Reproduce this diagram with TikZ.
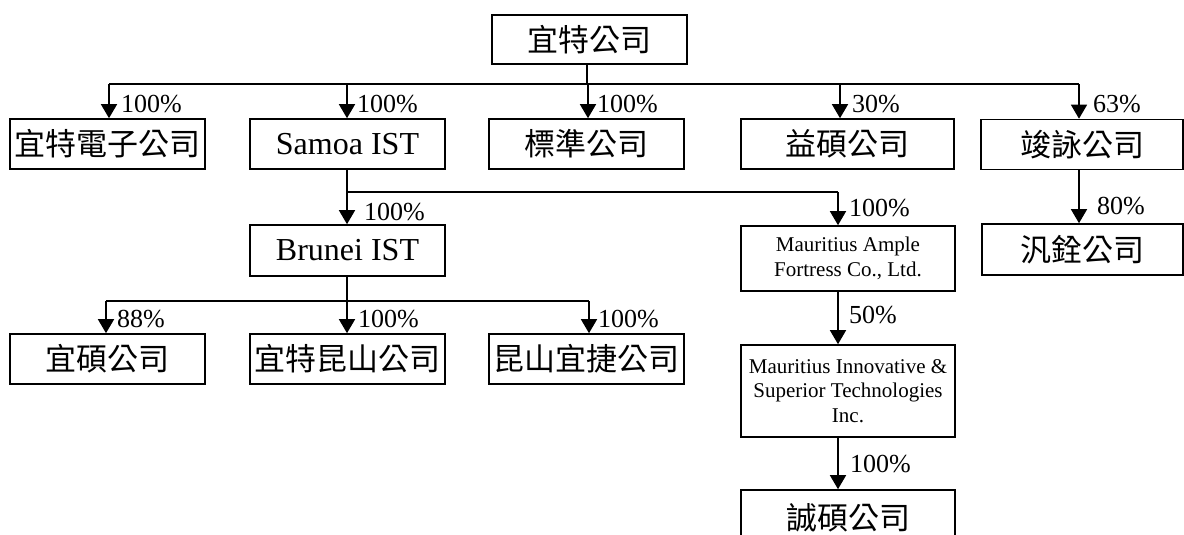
\documentclass[tikz,border=0pt]{standalone}
\usepackage{fontspec}
\setmainfont{Liberation Serif}
\newfontfamily\cjk{Noto Sans CJK TC}
\usetikzlibrary{arrows.meta}
\begin{document}
\begin{tikzpicture}[x=1pt,y=-1pt,
  box/.style={draw, line width=1.6pt, inner sep=0pt, align=center},
  cn/.style={font=\cjk\fontsize{31}{36}\selectfont},
  en/.style={font=\fontsize{32}{38}\selectfont},
  sm/.style={font=\fontsize{21}{24.5}\selectfont},
  pct/.style={anchor=west, inner sep=0pt, font=\fontsize{26}{30}\selectfont},
  conn/.style={line width=1.5pt},
  arr/.style={line width=1.5pt, -{Triangle[length=14pt,width=16pt]}}]
\useasboundingbox (0,0) rectangle (1184,535);

% nodes
\node[box, cn, minimum width=195pt, minimum height=49pt] (top) at (589.5,39.5) {宜特公司};
\node[box, cn, minimum width=195pt, minimum height=50pt] (ytdz) at (107.5,144) {宜特電子公司};
\node[box, en, minimum width=195pt, minimum height=50pt] (samoa) at (347.5,144) {Samoa IST};
\node[box, cn, minimum width=195pt, minimum height=50pt] (bz) at (586.5,144) {標準公司};
\node[box, cn, minimum width=213pt, minimum height=50pt] (ys) at (847.5,144) {益碩公司};
\node[box, cn, minimum width=202pt, minimum height=50pt] (jy) at (1082,144.5) {竣詠公司};
\node[box, en, minimum width=195pt, minimum height=51pt] (brunei) at (347.5,250.5) {Brunei IST};
\node[box, cn, minimum width=201pt, minimum height=51pt] (fq) at (1082.5,249.5) {汎銓公司};
\node[box, sm, minimum width=214pt, minimum height=65pt] (ample) at (848,258.5) {Mauritius Ample\\Fortress Co., Ltd.};
\node[box, sm, minimum width=214pt, minimum height=92pt] (innov) at (848,391) {Mauritius Innovative \&\\Superior Technologies\\Inc.};
\node[box, cn, minimum width=214pt, minimum height=56pt] (cs) at (848,518) {誠碩公司};
\node[box, cn, minimum width=195pt, minimum height=50pt] (yshuo) at (107.5,359) {宜碩公司};
\node[box, cn, minimum width=195pt, minimum height=50pt] (ytks) at (347.5,359) {宜特昆山公司};
\node[box, cn, minimum width=195pt, minimum height=50pt] (ksyj) at (586.5,359) {昆山宜捷公司};

% bus coordinates
\coordinate (s0) at (587,84);
\coordinate (b1) at (109,84);
\coordinate (b2) at (347,84);
\coordinate (b3) at (588,84);
\coordinate (b4) at (840,84);
\coordinate (b5) at (1079,84);
\coordinate (c0) at (347,192);
\coordinate (c1) at (838,192);
\coordinate (d0) at (347,301);
\coordinate (d1) at (106,301);
\coordinate (d3) at (589,301);

% level 1
\draw[conn] (s0 |- top.south) -- (s0);
\draw[conn] (b1) -- (b5);
\draw[arr] (b1) -- (b1 |- ytdz.north);
\draw[arr] (b2) -- (b2 |- samoa.north);
\draw[arr] (b3) -- (b3 |- bz.north);
\draw[arr] (b4) -- (b4 |- ys.north);
\draw[arr] (b5) -- (b5 |- jy.north);

% samoa
\draw[conn] (c0 |- samoa.south) -- (c0) -- (c1);
\draw[arr] (c0) -- (c0 |- brunei.north);
\draw[arr] (c1) -- (c1 |- ample.north);

% brunei
\draw[conn] (d0 |- brunei.south) -- (d0);
\draw[conn] (d1) -- (d3);
\draw[arr] (d1) -- (d1 |- yshuo.north);
\draw[arr] (d0) -- (d0 |- ytks.north);
\draw[arr] (d3) -- (d3 |- ksyj.north);

% mauritius chain
\draw[arr] (c1 |- ample.south) -- (c1 |- innov.north);
\draw[arr] (c1 |- innov.south) -- (c1 |- cs.north);

% jy -> fq
\draw[arr] (b5 |- jy.south) -- (b5 |- fq.north);

% labels
\node[pct] (l1) at (121,104) {100\%};
\node[pct] (l2) at (357,104) {100\%};
\node[pct] (l3) at (597,104) {100\%};
\node[pct] (l4) at (852,104) {30\%};
\node[pct] (l5) at (1093,104) {63\%};
\node[pct] (l6) at (364,212) {100\%};
\node[pct] (l7) at (849,208) {100\%};
\node[pct] (l8) at (1097,206) {80\%};
\node[pct] (l9) at (117,319) {88\%};
\node[pct] (l10) at (358,319) {100\%};
\node[pct] (l11) at (598,319) {100\%};
\node[pct] (l12) at (849,315) {50\%};
\node[pct] (l13) at (850,464) {100\%};
\end{tikzpicture}
\end{document}
